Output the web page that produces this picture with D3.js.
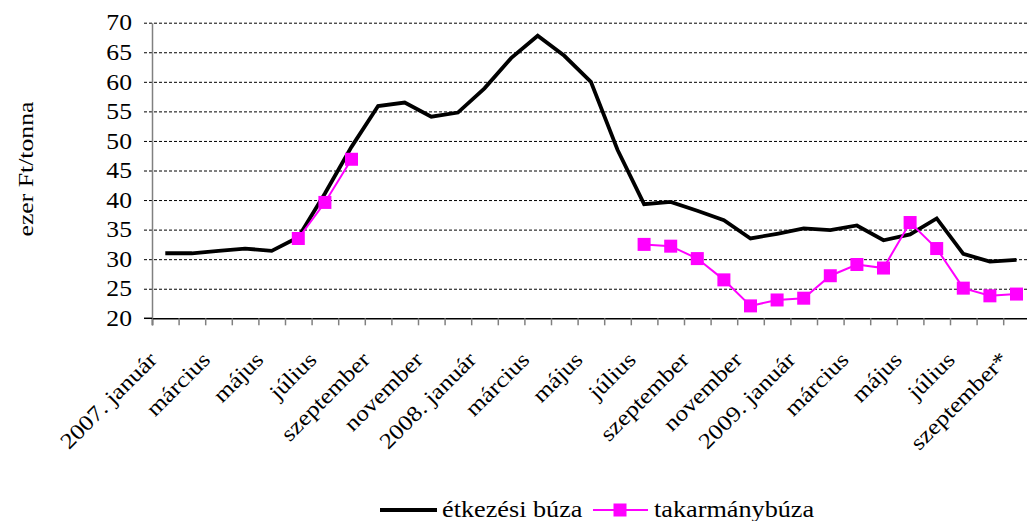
<!DOCTYPE html>
<html>
<head>
<meta charset="utf-8">
<script src="https://cdn.jsdelivr.net/npm/d3@7"></script>
<style>
  body { margin: 0; background: #fff; }
  text { font-family: "Liberation Serif", "Times New Roman", serif; fill: #000; }
</style>
</head>
<body>
<div id="chart"></div>
<script>
// monthly categories, 2007. január .. 2009. szeptember
const months = [
  "2007. január", "február", "március", "április", "május", "június",
  "július", "augusztus", "szeptember", "október", "november", "december",
  "2008. január", "február", "március", "április", "május", "június",
  "július", "augusztus", "szeptember", "október", "november", "december",
  "2009. január", "február", "március", "április", "május", "június",
  "július", "augusztus", "szeptember*"
];

// étkezési búza (ezer Ft/tonna)
const etkezesi = [31.0, 31.0, 31.4, 31.8, 31.4, 33.7, 41.1, 49.0, 55.9, 56.5,
  54.1, 54.8, 58.9, 64.0, 67.8, 64.4, 60.0, 48.5, 39.3, 39.7,
  38.2, 36.6, 33.5, 34.3, 35.2, 34.9, 35.7, 33.2, 34.2, 36.9,
  30.9, 29.6, 29.9];

// takarmánybúza (ezer Ft/tonna)
const takarmany = [null, null, null, null, null, 33.5, 39.6, 46.9, null, null,
  null, null, null, null, null, null, null, null, 32.5, 32.2,
  30.1, 26.5, 22.1, 23.1, 23.4, 27.2, 29.1, 28.5, 36.2, 31.8,
  25.1, 23.8, 24.1];

const yTicks = [20, 25, 30, 35, 40, 45, 50, 55, 60, 65, 70];
const seriesNames = ["étkezési búza", "takarmánybúza"];

const width = 1027, height = 521;
const margin = {top: 22.7, left: 152, bottom: 521 - 318.3};
const bandW = 26.6;
// the original text is a bit wider than the plain serif face
const stretch = "scale(1.14,1)";

const svg = d3.select("#chart")
  .append("svg")
    .attr("width", width)
    .attr("height", height);

const x = d3.scaleBand()
  .domain(d3.range(months.length))
  .range([margin.left, margin.left + bandW * months.length]);

const xEdge = d3.scaleLinear()
  .domain([0, months.length])
  .range([margin.left, margin.left + bandW * months.length]);

const y = d3.scaleLinear()
  .domain([20, 70])
  .range([318.3, margin.top]);

const xc = i => x(i) + x.bandwidth() / 2;

// dashed gridlines
svg.append("g")
  .attr("transform", `translate(${margin.left}, 0)`)
  .call(d3.axisLeft(y).tickValues(yTicks.slice(1)).tickSize(-(width - margin.left + 8)).tickFormat(""))
  .call(g => g.select(".domain").remove())
  .call(g => g.selectAll("line")
    .attr("transform", "translate(-8,0)")
    .attr("stroke", "#000")
    .attr("stroke-width", 1)
    .attr("stroke-dasharray", "3,2"));

// y axis
svg.append("g")
  .attr("transform", `translate(${margin.left}, 0)`)
  .call(d3.axisLeft(y).tickValues(yTicks).tickSize(0).tickPadding(20))
  .call(g => g.select(".domain").attr("stroke", "#808080").attr("stroke-width", 1.5))
  .call(g => g.selectAll("text")
    .attr("x", null)
    .attr("transform", `translate(-20,0) ${stretch}`)
    .style("font-size", "22.5px"));

// x axis line and tick marks at the band edges
svg.append("g")
  .attr("transform", `translate(0, ${y(20)})`)
  .call(d3.axisBottom(xEdge).tickValues(d3.range(months.length + 1)).tickSize(7).tickFormat(""))
  .call(g => g.select(".domain").attr("stroke", "#000").attr("stroke-width", 1.5))
  .call(g => g.selectAll(".tick line").attr("stroke", "#808080").attr("stroke-width", 1.5));

svg.append("line")
  .attr("x1", margin.left - 8).attr("x2", margin.left)
  .attr("y1", y(20)).attr("y2", y(20))
  .attr("stroke", "#000").attr("stroke-width", 1.5);

// rotated month labels, every second month
svg.append("g")
  .selectAll("text")
  .data(months.map((m, i) => ({m, i})).filter(d => d.i % 2 === 0))
  .join("text")
    .attr("transform", d => `translate(${xc(d.i) - 7}, 361) rotate(-45) scale(1.15,1)`)
    .attr("text-anchor", "end")
    .style("font-size", "22px")
    .text(d => d.m);

// y axis title
svg.append("text")
  .attr("transform", `translate(33, 169) rotate(-90) scale(1.17,1)`)
  .attr("text-anchor", "middle")
  .style("font-size", "22px")
  .text("ezer Ft/tonna");

// lines
const line = d3.line()
  .defined(d => d != null)
  .x((d, i) => xc(i))
  .y(d => y(d));

svg.append("path")
  .datum(etkezesi)
  .attr("d", line)
  .attr("fill", "none")
  .attr("stroke", "#000")
  .attr("stroke-width", 3.8)
  .attr("stroke-linejoin", "miter");

svg.append("path")
  .datum(takarmany)
  .attr("d", line)
  .attr("fill", "none")
  .attr("stroke", "#ff00ff")
  .attr("stroke-width", 2);

const sq = 13;
svg.append("g")
  .selectAll("rect")
  .data(takarmany.map((v, i) => ({v, i})).filter(d => d.v != null))
  .join("rect")
    .attr("x", d => xc(d.i) - sq / 2)
    .attr("y", d => y(d.v) - sq / 2)
    .attr("width", sq)
    .attr("height", sq)
    .attr("fill", "#ff00ff");

// legend
const legend = svg.append("g");
legend.append("line")
  .attr("x1", 380).attr("x2", 437).attr("y1", 510).attr("y2", 510)
  .attr("stroke", "#000").attr("stroke-width", 3.8);
legend.append("text")
  .attr("transform", `translate(442, 517) ${stretch}`)
  .style("font-size", "23px")
  .text(seriesNames[0]);
legend.append("line")
  .attr("x1", 593).attr("x2", 648).attr("y1", 510).attr("y2", 510)
  .attr("stroke", "#ff00ff").attr("stroke-width", 2);
legend.append("rect")
  .attr("x", 620 - sq / 2).attr("y", 510 - sq / 2)
  .attr("width", sq).attr("height", sq)
  .attr("fill", "#ff00ff");
legend.append("text")
  .attr("transform", `translate(654, 517) ${stretch}`)
  .style("font-size", "23px")
  .text(seriesNames[1]);
</script>
</body>
</html>
